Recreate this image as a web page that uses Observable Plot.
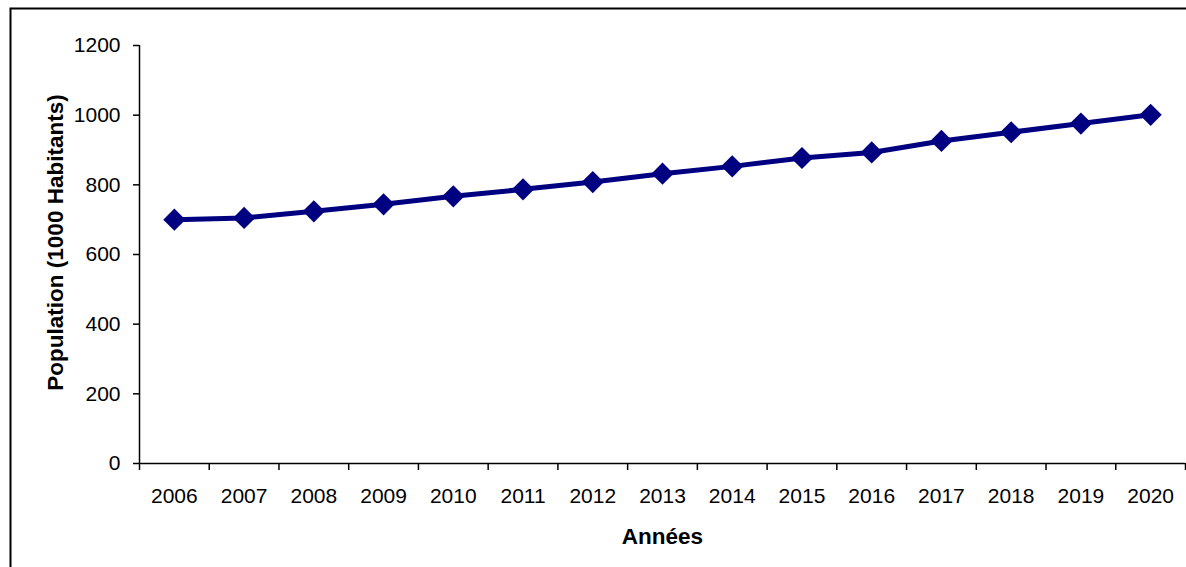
<!DOCTYPE html>
<html>
<head>
<meta charset="utf-8">
<script src="https://cdn.jsdelivr.net/npm/d3@7"></script>
<script src="https://cdn.jsdelivr.net/npm/@observablehq/plot@0.6"></script>
<style>
  html, body { margin: 0; padding: 0; background: #fff; }
  #chart svg { display: block; }
</style>
</head>
<body>
<div id="chart"></div>
<script>
// Population series, in thousands of inhabitants
const years = [2006, 2007, 2008, 2009, 2010, 2011, 2012, 2013, 2014, 2015, 2016, 2017, 2018, 2019, 2020];
const population = [700, 705, 724, 744, 767, 787, 808, 832, 853, 877, 893, 926, 951, 976, 1001];
const yTicks = [0, 200, 400, 600, 800, 1000, 1200];
const yTitle = "Population (1000 Habitants)";
const xTitle = "Années";

const data = years.map((year, i) => ({year, value: population[i]}));
// category boundaries, where the x tick marks sit
const boundaries = d3.range(years[0] - 0.5, years[years.length - 1] + 1, 1);

const navy = "#000080";

const chart = Plot.plot({
  width: 1186,
  height: 567,
  marginLeft: 139,
  marginRight: 1,
  marginTop: 45,
  marginBottom: 104,
  style: {fontFamily: "'Liberation Sans', Arial, sans-serif", color: "#000", background: "#fff"},
  x: {domain: [boundaries[0], boundaries[boundaries.length - 1]]},
  y: {domain: [0, 1200]},
  marks: [
    // outer chart border
    Plot.frame({insetLeft: -129, insetTop: -37, insetRight: -30, insetBottom: -130, stroke: "#000", strokeWidth: 2}),
    // y axis
    Plot.axisY(yTicks, {tickSize: 6, tickPadding: 13, fontSize: 21, strokeWidth: 1.5, tickFormat: d => String(d), label: null}),
    // x axis: tick marks between categories, labels centred on each category
    Plot.axisX(boundaries, {tickSize: 7, tickFormat: () => "", strokeWidth: 1.5, label: null}),
    Plot.axisX(years, {tickSize: 0, tickPadding: 25, fontSize: 21, tickFormat: d => String(d), label: null}),
    Plot.ruleX([boundaries[0]], {stroke: "#000", strokeWidth: 1.5}),
    Plot.ruleY([0], {stroke: "#000", strokeWidth: 1.5}),
    // axis titles
    Plot.text([yTitle], {frameAnchor: "left", rotate: -90, textAnchor: "middle", lineAnchor: "bottom", dx: -77, dy: -12,
      fontSize: 22.5, fontWeight: "bold", fill: "#000"}),
    Plot.text([xTitle], {frameAnchor: "bottom", textAnchor: "middle", lineAnchor: "bottom", dy: 80,
      fontSize: 22.5, fontWeight: "bold", fill: "#000"}),
    // series
    Plot.line(data, {x: "year", y: "value", stroke: navy, strokeWidth: 5}),
    Plot.dot(data, {x: "year", y: "value", symbol: "diamond2", r: 10, fill: navy, stroke: null})
  ]
});

document.getElementById("chart").appendChild(chart);
</script>
</body>
</html>
